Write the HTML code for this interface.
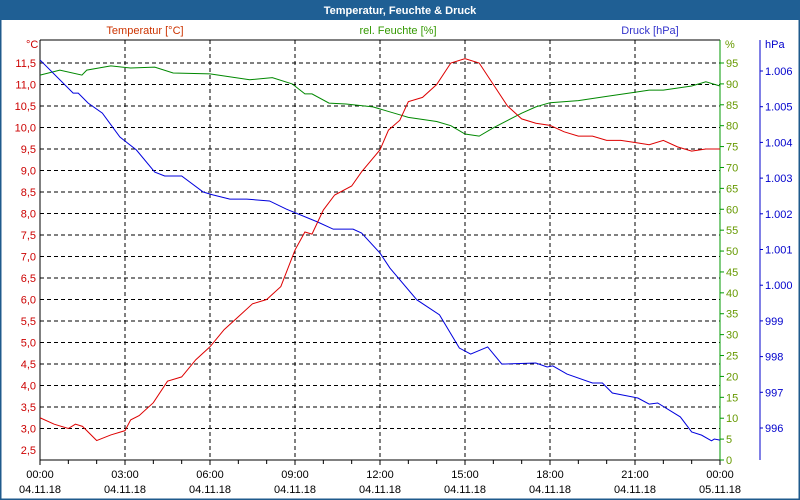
<!DOCTYPE html>
<html><head><meta charset="utf-8"><style>
body{margin:0;background:#fff;}
svg{display:block;font-family:"Liberation Sans",sans-serif;font-size:11px;}
</style></head><body>
<svg id="c" width="800" height="500">
<rect x="0" y="0" width="800" height="500" fill="#fff" stroke="#1f5a8c" stroke-width="3"/>
<rect x="0" y="0" width="800" height="20" fill="#1f5f94"/>
<text x="400" y="14" text-anchor="middle" fill="#fff" font-weight="bold">Temperatur, Feuchte &amp; Druck</text>
<text x="145" y="34" text-anchor="middle" fill="#cc3300">Temperatur [°C]</text>
<text x="398" y="34" text-anchor="middle" fill="#339900">rel. Feuchte [%]</text>
<text x="650" y="34" text-anchor="middle" fill="#3333cc">Druck [hPa]</text>
<text x="26" y="48" fill="#cc0000">°C</text>
<text x="725" y="48" fill="#669900">%</text>
<text x="765" y="48" fill="#0000cc">hPa</text>
<g id="grid"></g><g id="axes"></g><g id="series"></g>
</svg>
<script>
const hours=[0,0.5,1,1.25,1.5,2,2.5,3,3.2,3.5,4,4.5,5,5.5,6,6.5,7,7.5,8,8.5,9,9.35,9.6,10,10.4,11,11.35,12,12.3,12.7,13,13.5,14,14.5,15,15.5,16,16.5,17,17.5,18,18.5,19,19.5,20,20.5,21,21.5,22,22.5,23,23.5,24];
const tempVals=[3.25,3.1,3.0,3.1,3.05,2.72,2.85,2.95,3.2,3.3,3.6,4.1,4.2,4.6,4.9,5.3,5.6,5.9,6.0,6.3,7.15,7.57,7.52,8.08,8.43,8.64,8.97,9.48,9.94,10.17,10.6,10.7,11.0,11.5,11.6,11.5,11.0,10.5,10.2,10.1,10.05,9.9,9.8,9.8,9.7,9.7,9.65,9.6,9.7,9.55,9.45,9.5,9.5];
const humHours=[0,0.7,1.48,1.65,2.5,3.2,4.05,4.7,6,7.4,8.2,8.9,9.35,9.6,10.2,10.8,11.75,12.25,12.7,13,14,14.5,15,15.5,16,17,17.5,18,19,20,21,21.5,22,23,23.5,24];
const humVals=[92.1,93.3,92.1,93.3,94.3,93.8,94.0,92.6,92.4,91.0,91.5,90.0,87.6,87.6,85.4,85.2,84.5,83.5,82.6,82,81,80,78,77.5,79.5,83,84.5,85.5,86,87,88,88.5,88.5,89.5,90.5,89.5];
const presHours=[0,1.17,1.35,1.7,2.2,2.82,3.4,4.05,4.4,5.0,5.76,6.1,6.7,7.3,8.1,8.7,9.8,10.35,11.05,11.35,12,12.35,13.3,14.1,14.8,15.2,15.8,16.3,17.5,17.9,18.1,18.6,19.5,19.85,20.2,21.1,21.5,21.8,22.6,23.0,23.35,23.7,23.8,24];
const presVals=[1006.31,1005.38,1005.38,1005.10,1004.82,1004.15,1003.79,1003.17,1003.06,1003.06,1002.61,1002.53,1002.41,1002.41,1002.36,1002.13,1001.77,1001.57,1001.57,1001.46,1000.90,1000.48,999.59,999.17,998.24,998.07,998.27,997.79,997.82,997.71,997.74,997.51,997.26,997.26,996.98,996.84,996.67,996.70,996.31,995.89,995.80,995.64,995.69,995.66];
const tempTicks=[2.5,3,3.5,4,4.5,5,5.5,6,6.5,7,7.5,8,8.5,9,9.5,10,10.5,11,11.5];
const humTicks=[0,5,10,15,20,25,30,35,40,45,50,55,60,65,70,75,80,85,90,95];
const presTicks=[996,997,998,999,1000,1001,1002,1003,1004,1005,1006];
const timeLabels=["00:00","03:00","06:00","09:00","12:00","15:00","18:00","21:00","00:00"];
const dateLabels=["04.11.18","04.11.18","04.11.18","04.11.18","04.11.18","04.11.18","04.11.18","04.11.18","05.11.18"];

const X=h=>40+h*680/24;
const YT=v=>63+(11.5-v)*43;
const YH=v=>460-v*(397/95);
const YP=v=>71+(1006-v)*35.7;
const NS="http://www.w3.org/2000/svg";
function mk(p,tag,a,txt){const e=document.createElementNS(NS,tag);for(const k in a)e.setAttribute(k,a[k]);if(txt!==undefined)e.textContent=txt;p.appendChild(e);return e;}
const grid=document.getElementById('grid'),axes=document.getElementById('axes'),ser=document.getElementById('series');
tempTicks.forEach(v=>{
  if(v>2.5&&v<12){const l=mk(grid,'line',{x1:40,x2:720,y1:YT(v),y2:YT(v),stroke:'#000','stroke-dasharray':'4,3'});
  
  }
  const t=mk(axes,'text',{x:36,y:YT(v)+4,'text-anchor':'end',fill:'#cc0000'},v.toFixed(1).replace('.',','));
  
  
});
timeLabels.forEach((s,i)=>{
  const x=X(i*3);
  if(i>0&&i<8){const l=mk(grid,'line',{x1:x,x2:x,y1:40,y2:460,stroke:'#000','stroke-dasharray':'4,3'});
  
  }
  const t=mk(axes,'text',{x:x,y:478,'text-anchor':'middle',fill:'#000'},s);
  
  
  const d=mk(axes,'text',{x:x,y:493,'text-anchor':'middle',fill:'#000'},dateLabels[i]);
  
  
});
for(let h=0;h<=24;h++){const l=mk(axes,'line',{x1:X(h),x2:X(h),y1:460,y2:h%3?464:465,stroke:'#000'});
  
  }
let a=mk(axes,'line',{x1:40,x2:40,y1:40,y2:460,stroke:'#000'});
a=mk(axes,'line',{x1:40,x2:720,y1:460,y2:460,stroke:'#000'});
a=mk(axes,'line',{x1:40,x2:720,y1:40,y2:40,stroke:'#000'});
a=mk(axes,'line',{x1:720,x2:720,y1:40,y2:460,stroke:'#009900'});
a=mk(axes,'line',{x1:760,x2:760,y1:40,y2:460,stroke:'#0000cc'});
humTicks.forEach(v=>{
  const l=mk(axes,'line',{x1:720,x2:724,y1:YH(v),y2:YH(v),stroke:'#009900'});
  
  
  const t=mk(axes,'text',{x:726,y:YH(v)+4,fill:'#669900'},v);
  
  
});
presTicks.forEach(v=>{
  const l=mk(axes,'line',{x1:760,x2:763,y1:YP(v),y2:YP(v),stroke:'#0000cc'});
  
  
  const s=v>=1000?'1.'+String(v-1000).padStart(3,'0'):String(v);
  const t=mk(axes,'text',{x:765,y:YP(v)+4,fill:'#0000cc'},s);
  
  
});
function line(xs,vs,Y,col,name){
  const p=mk(ser,'polyline',{points:xs.map((h,i)=>X(h)+','+Y(vs[i])).join(' '),fill:'none',stroke:col,'stroke-width':1});
  
  
}
line(humHours,humVals,YH,'#008800','humidity-line');
line(presHours,presVals,YP,'#0000dd','pressure-line');
line(hours,tempVals,YT,'#dd0000','temperature-line');
</script>
</body></html>
